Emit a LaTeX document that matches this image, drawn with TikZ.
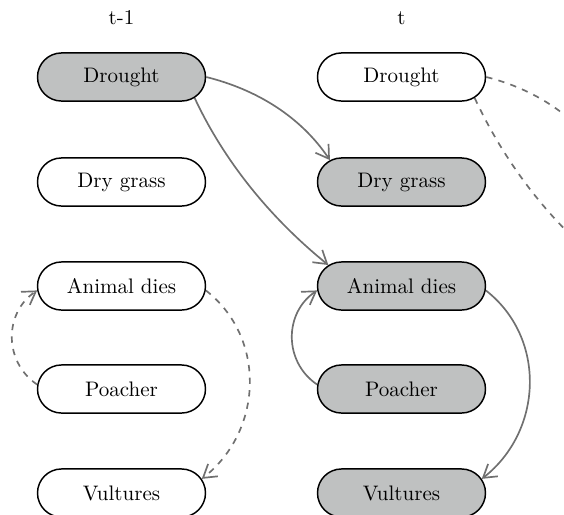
\documentclass[tikz,border=0pt]{standalone}
\usetikzlibrary{shapes.misc,arrows.meta}
\definecolor{obsfill}{RGB}{191,193,193}
\definecolor{edgegray}{RGB}{112,112,112}
\begin{document}
\begin{tikzpicture}[x=0.47619pt,y=0.47619pt,
  var/.style={rounded rectangle, draw=black, line width=0.7pt,
    minimum width=84pt, minimum height=22.9pt, inner sep=2pt},
  obs/.style={var, fill=obsfill},
  link/.style={draw=edgegray, line width=0.8pt,
    -{Straight Barb[length=6pt,width=7.5pt]}},
  nextlink/.style={link, dashed}]
\useasboundingbox (0,0) rectangle (564,-514);
\clip (0,0) rectangle (564,-514);

% time slice headings
\node (h1) at (121.5,-18) {t-1};
\node (h2) at (401.5,-18) {t};

% slice t-1
\node[obs] (d1) at (121.5,-77)  {Drought};
\node[var] (g1) at (121.5,-182) {Dry grass};
\node[var] (a1) at (121.5,-286) {Animal dies};
\node[var] (p1) at (121.5,-389) {Poacher};
\node[var] (v1) at (121.5,-493) {Vultures};

% slice t
\node[var] (d2) at (401.5,-77)  {Drought};
\node[obs] (g2) at (401.5,-182) {Dry grass};
\node[obs] (a2) at (401.5,-286) {Animal dies};
\node[obs] (p2) at (401.5,-389) {Poacher};
\node[obs] (v2) at (401.5,-493) {Vultures};

% targets in the following slice
\coordinate (gnext) at (606,-160);
\coordinate (anext) at (602,-263);

% links from t-1 into t
\draw[link] (d1.east) to[out=-14,in=124,looseness=0.9] (g2.163);
\draw[link] (d1.-16) to[out=-65,in=141,looseness=0.86] (a2.164);

% links within slice t
\draw[link] (p2.177) to[out=146,in=214,looseness=1.1] (a2.183);
\draw[link] (a2.-3) to[out=-38,in=38,looseness=1.05] (v2.10);

% links within slice t-1
\draw[nextlink] (p1.177) to[out=146,in=214,looseness=1.1] (a1.183);
\draw[nextlink] (a1.-3) to[out=-38,in=38,looseness=1.05] (v1.10);

% links from t into the following slice
\draw[nextlink] (d2.east) to[out=-14,in=124,looseness=0.9] (gnext);
\draw[nextlink] (d2.-16) to[out=-65,in=141,looseness=0.86] (anext);
\end{tikzpicture}
\end{document}
